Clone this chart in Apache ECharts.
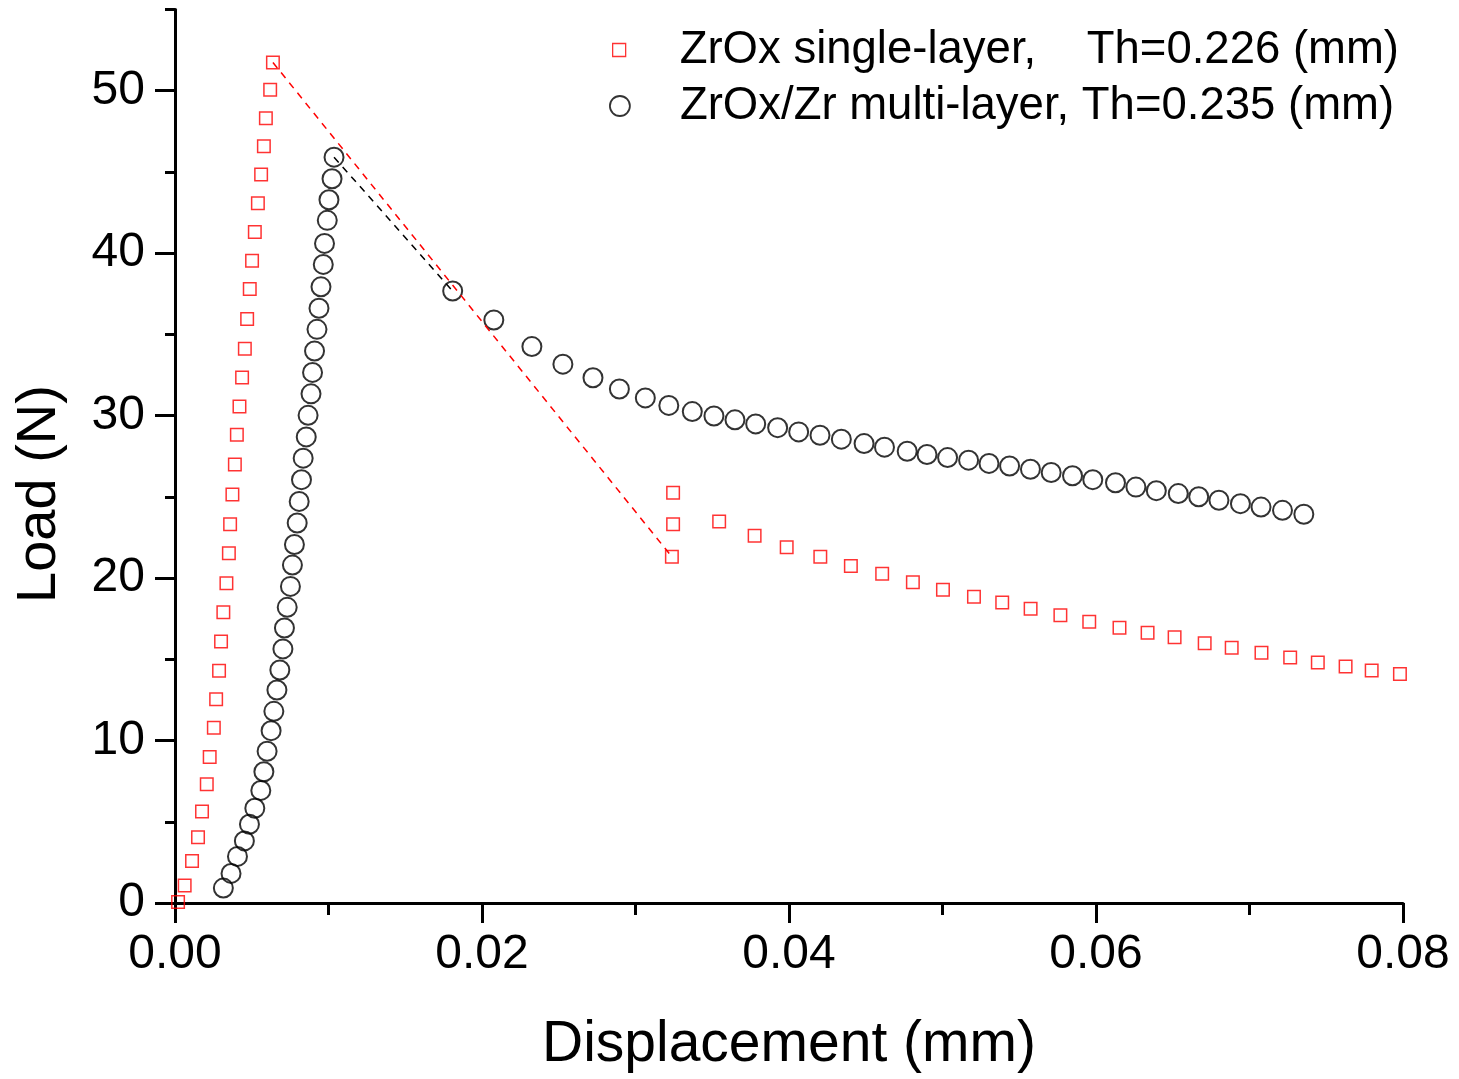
<!DOCTYPE html>
<html><head><meta charset="utf-8">
<script src="https://cdn.jsdelivr.net/npm/echarts@6/dist/echarts.min.js"></script>
<style>html,body{margin:0;padding:0;background:#fff}#c{width:1459px;height:1079px}</style>
</head><body><div id="c"></div>
<script>
// ---- data ----
const singleName = 'ZrOx single-layer,    Th=0.226 (mm)';
const multiName = 'ZrOx/Zr multi-layer, Th=0.235 (mm)';

const singleX = [0.0002,0.00063,0.00111,0.00150,0.00176,0.00207,0.00226,0.00253,0.00268,0.00287,
  0.00300,0.00315,0.00335,0.00351,0.00359,0.00374,0.00390,0.00403,0.00420,0.00437,
  0.00455,0.00470,0.00487,0.00502,0.00520,0.00540,0.00561,0.00579,0.00592,0.00620,0.00638,
  0.03237,0.03245,0.03245,
  0.03545,0.03776,0.03985,0.04204,0.04403,0.04607,0.04807,0.05003,0.05205,0.05389,
  0.05574,0.05768,0.05956,0.06153,0.06336,0.06512,0.06708,0.06884,0.07078,0.07265,
  0.07445,0.07626,0.07796,0.07980];
const singleY = [0.06,1.08,2.58,4.05,5.64,7.31,8.98,10.78,12.54,14.29,
  16.09,17.90,19.68,21.53,23.31,25.15,26.99,28.83,30.57,32.35,
  34.11,35.95,37.79,39.53,41.31,43.07,44.85,46.58,48.30,50.06,51.74,
  21.31,23.31,25.26,
  23.48,22.60,21.90,21.31,20.75,20.26,19.75,19.28,18.85,18.50,
  18.11,17.71,17.32,16.95,16.64,16.36,15.99,15.71,15.40,15.11,
  14.80,14.56,14.31,14.09];
const singlePeak = 30, singleDrop = 31;

const multiX = [0.00315,0.00365,0.00407,0.00452,0.00485,0.00520,0.00559,0.00579,0.00600,0.00626,
  0.00644,0.00664,0.00683,0.00703,0.00713,0.00731,0.00752,0.00765,0.00778,0.00796,
  0.00809,0.00824,0.00835,0.00855,0.00867,0.00886,0.00896,0.00909,0.00925,0.00938,
  0.00951,0.00966,0.00974,0.00992,0.01003,0.01023,0.01036,
  0.01809,0.02077,0.02325,0.02527,0.02723,0.02895,0.03064,0.03217,0.03370,0.03511,
  0.03648,0.03783,0.03926,0.04063,0.04202,0.04341,0.04489,0.04622,0.04770,0.04899,
  0.05033,0.05170,0.05303,0.05437,0.05573,0.05708,0.05847,0.05979,0.06127,0.06260,
  0.06393,0.06536,0.06669,0.06801,0.06941,0.07075,0.07215,0.07354];
const multiY = [0.92,1.82,2.87,3.82,4.85,5.83,6.93,8.08,9.34,10.61,
  11.80,13.11,14.34,15.64,16.93,18.20,19.49,20.80,22.07,23.39,
  24.72,26.06,27.38,28.69,30.02,31.34,32.66,33.98,35.31,36.61,
  37.93,39.31,40.60,42.02,43.29,44.58,45.91,
  37.67,35.89,34.25,33.17,32.33,31.64,31.09,30.63,30.25,29.98,
  29.74,29.49,29.26,29.00,28.79,28.55,28.28,28.06,27.81,27.61,
  27.42,27.26,27.06,26.90,26.70,26.50,26.30,26.06,25.87,25.60,
  25.38,25.20,25.01,24.79,24.58,24.37,24.17,23.93];
const multiPeak = 36, multiDrop = 37;

const xTicks = [0, 0.02, 0.04, 0.06, 0.08];
const yMajorTicks = [0, 10, 20, 30, 40, 50];
const yMinorTicks = [5, 15, 25, 35, 45, 55];

// ---- build ----
const zip = (xs, ys) => xs.map((x, i) => [x, ys[i]]);
const singleData = zip(singleX, singleY);
const multiData = zip(multiX, multiY);
const singleLink = [singleData[singlePeak], singleData[singleDrop]];
const multiLink = [multiData[multiPeak], multiData[multiDrop]];

const FONT = '"Liberation Sans", Arial, sans-serif';
const chart = echarts.init(document.getElementById('c'), null, {renderer: 'canvas'});
const axisBlack = {color: '#000', width: 3};

chart.setOption({
  animation: false,
  backgroundColor: '#fff',
  grid: {left: 175, right: 56, top: 9.5, bottom: 173.5},
  xAxis: {
    type: 'value', min: xTicks[0], max: xTicks[xTicks.length - 1], interval: 0.02,
    axisLine: {lineStyle: axisBlack},
    axisTick: {length: 20, lineStyle: axisBlack},
    minorTick: {show: true, splitNumber: 2, length: 12, lineStyle: axisBlack},
    splitLine: {show: false}, minorSplitLine: {show: false},
    axisLabel: {margin: 28, fontSize: 48, color: '#000', fontFamily: FONT, formatter: v => v.toFixed(2)},
    name: 'Displacement (mm)', nameLocation: 'middle', nameGap: 114,
    nameTextStyle: {fontSize: 57, color: '#000', fontFamily: FONT}
  },
  yAxis: [{
    type: 'value', min: 0, max: 55, interval: 10, position: 'left',
    axisLine: {show: true, lineStyle: axisBlack},
    axisTick: {show: true, length: 20, lineStyle: axisBlack, customValues: yMajorTicks},
    splitLine: {show: false},
    axisLabel: {margin: 30, fontSize: 48, color: '#000', fontFamily: FONT, customValues: yMajorTicks}
  }, {
    type: 'value', min: 0, max: 55, interval: 5, position: 'left', offset: 0,
    axisLine: {show: false},
    axisTick: {show: true, length: 10, lineStyle: axisBlack, customValues: yMinorTicks},
    splitLine: {show: false},
    axisLabel: {show: false}
  }],
  legend: [{
    data: [{name: singleName, icon: 'rect',
      itemStyle: {color: 'rgba(0,0,0,0)', borderColor: '#ff0000', borderWidth: 1.3}}],
    left: 607, top: 22, itemWidth: 13, itemHeight: 13, selectedMode: false,
    textStyle: {fontSize: 45.5, color: '#000', fontFamily: FONT, padding: [0, 0, 0, 49]}
  }, {
    data: [{name: multiName, icon: 'circle',
      itemStyle: {color: 'rgba(0,0,0,0)', borderColor: '#000', borderWidth: 1.8}}],
    left: 604, top: 78, itemWidth: 20, itemHeight: 20, selectedMode: false,
    textStyle: {fontSize: 45.5, color: '#000', fontFamily: FONT, padding: [0, 0, 0, 45]}
  }],
  graphic: [{
    type: 'text', x: 40, y: 494, rotation: Math.PI / 2,
    style: {text: 'Load (N)', font: '56px "Liberation Sans", Arial, sans-serif',
      fill: '#000', align: 'center', verticalAlign: 'middle'}
  }],
  series: [{
    name: 'multi-link', type: 'line', data: multiLink, symbol: 'none', silent: true, z: 1,
    lineStyle: {color: '#000', width: 1.5, type: [7, 6]}
  }, {
    name: multiName, type: 'scatter', data: multiData, symbol: 'circle', symbolSize: 19, z: 2,
    itemStyle: {color: 'rgba(0,0,0,0)', borderColor: '#000', borderWidth: 2}
  }, {
    name: 'single-link', type: 'line', data: singleLink, symbol: 'none', silent: true, z: 3,
    lineStyle: {color: '#ff0000', width: 1.5, type: [7, 6]}
  }, {
    name: singleName, type: 'scatter', data: singleData, symbol: 'rect', symbolSize: 12.5, z: 4,
    itemStyle: {color: 'rgba(0,0,0,0)', borderColor: '#ff0000', borderWidth: 1.5}
  }]
});
</script></body></html>
